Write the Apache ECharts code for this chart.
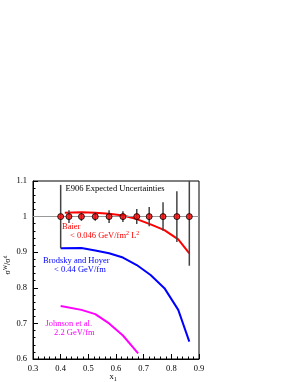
<!DOCTYPE html>
<html><head><meta charset="utf-8">
<script src="https://cdn.jsdelivr.net/npm/echarts@6/dist/echarts.min.js"></script>
<style>html,body{margin:0;padding:0;background:#fff}#c{width:295px;height:382px}</style>
</head><body><div id="c"></div>
<script>
// E906 expected uncertainties (points at ratio = 1)
const ptX = [0.40, 0.43, 0.475, 0.525, 0.575, 0.625, 0.675, 0.72, 0.77, 0.82, 0.865];
const ptY = [1, 1, 1, 1, 1, 1, 1, 1, 1, 1, 1];
const ptErr = [0.089, 0.018, 0.012, 0.012, 0.018, 0.015, 0.021, 0.027, 0.040, 0.071, 0.138];
// Baier
const baierX = [0.415, 0.475, 0.525, 0.575, 0.625, 0.675, 0.725, 0.775, 0.825, 0.865];
const baierY = [1.011, 1.012, 1.011, 1.008, 1.003, 0.993, 0.978, 0.962, 0.936, 0.897];
// Brodsky and Hoyer
const bhX = [0.40, 0.475, 0.525, 0.575, 0.625, 0.675, 0.725, 0.775, 0.825, 0.865];
const bhY = [0.911, 0.912, 0.905, 0.897, 0.885, 0.864, 0.836, 0.799, 0.738, 0.649];
// Johnson et al.
const jX = [0.40, 0.475, 0.525, 0.575, 0.625, 0.68];
const jY = [0.749, 0.738, 0.726, 0.700, 0.666, 0.616];
const xTicks = [0.3, 0.4, 0.5, 0.6, 0.7, 0.8, 0.9];
const yTicks = [0.6, 0.7, 0.8, 0.9, 1, 1.1];

const FONT = '"Liberation Serif", "DejaVu Serif", serif';
const zip = (a, b) => a.map((v, i) => [v, b[i]]);
const chart = echarts.init(document.getElementById('c'), null, {renderer: 'canvas'});
const axisCommon = {
  type: 'value',
  axisLine: {show: true, lineStyle: {color: '#000', width: 1}},
  axisTick: {show: true, inside: true, length: 5, lineStyle: {color: '#000'}},
  minorTick: {show: true, splitNumber: 5, length: 2.5, lineStyle: {color: '#000'}},
  splitLine: {show: false},
  axisLabel: {color: '#000', fontFamily: FONT, fontSize: 8.5}
};
chart.setOption({
  animation: false,
  grid: {left: 33, right: 96, top: 181, bottom: 23, show: true, borderColor: '#000', borderWidth: 1, backgroundColor: 'transparent'},
  xAxis: Object.assign({}, axisCommon, {
    min: xTicks[0], max: xTicks[xTicks.length - 1], interval: 0.1,
    axisLabel: Object.assign({}, axisCommon.axisLabel, {margin: 5, formatter: v => String(Math.round(v * 10) / 10)})
  }),
  yAxis: Object.assign({}, axisCommon, {
    min: yTicks[0], max: yTicks[yTicks.length - 1], interval: 0.1,
    axisLabel: Object.assign({}, axisCommon.axisLabel, {margin: 6, formatter: v => String(Math.round(v * 10) / 10)})
  }),
  series: [
    {
      type: 'line', data: zip(baierX, baierY), showSymbol: false, symbol: 'none',
      lineStyle: {color: '#ff0000', width: 2}, z: 3,
      markLine: {silent: true, symbol: 'none', label: {show: false},
        lineStyle: {color: '#999', width: 1, type: 'solid'}, data: [{yAxis: 1}]}
    },
    {type: 'line', data: zip(bhX, bhY), showSymbol: false, symbol: 'none', lineStyle: {color: '#0000ff', width: 2}, z: 3},
    {type: 'line', data: zip(jX, jY), showSymbol: false, symbol: 'none', lineStyle: {color: '#ff00ff', width: 2}, z: 3},
    {
      type: 'custom', clip: true, z: 4,
      data: ptX.map((x, i) => [x, ptY[i] - ptErr[i], ptY[i] + ptErr[i]]),
      renderItem: (params, api) => {
        const lo = api.coord([api.value(0), api.value(1)]);
        const hi = api.coord([api.value(0), api.value(2)]);
        return {type: 'line', shape: {x1: lo[0], y1: lo[1], x2: hi[0], y2: hi[1]},
          style: {stroke: '#444', lineWidth: 1.5}};
      }
    },
    {
      type: 'scatter', data: zip(ptX, ptY), symbol: 'circle', symbolSize: 6, z: 5,
      itemStyle: {color: '#ff0000', borderColor: '#000', borderWidth: 1}
    }
  ],
  graphic: [
    {type: 'text', x: 115, y: 189, style: {text: 'E906 Expected Uncertainties', font: '8.5px ' + FONT, fill: '#000', align: 'center', verticalAlign: 'middle'}},
    {type: 'text', x: 62, y: 227, style: {text: 'Baier', font: '8.5px ' + FONT, fill: '#ff0000', verticalAlign: 'middle'}},
    {type: 'text', x: 70, y: 236, style: {text: '< 0.046 GeV/fm{s|2} L{s|2}', font: '8.5px ' + FONT, fill: '#ff0000', verticalAlign: 'middle',
      rich: {s: {fontSize: 6, fontFamily: FONT, fill: '#ff0000', verticalAlign: 'top', padding: [0, 0, 5, 0]}}}},
    {type: 'text', x: 43, y: 261, style: {text: 'Brodsky and Hoyer', font: '8.5px ' + FONT, fill: '#0000ff', verticalAlign: 'middle'}},
    {type: 'text', x: 54, y: 270, style: {text: '< 0.44 GeV/fm', font: '8.5px ' + FONT, fill: '#0000ff', verticalAlign: 'middle'}},
    {type: 'text', x: 45.5, y: 324, style: {text: 'Johnson et al.', font: '8.5px ' + FONT, fill: '#ff00ff', verticalAlign: 'middle'}},
    {type: 'text', x: 54, y: 333, style: {text: '2.2 GeV/fm', font: '8.5px ' + FONT, fill: '#ff00ff', verticalAlign: 'middle'}},
    {type: 'text', x: 113, y: 377, style: {text: 'x{s|1}', font: '8.5px ' + FONT, fill: '#000', align: 'center', verticalAlign: 'middle',
      rich: {s: {fontSize: 6, fontFamily: FONT, padding: [5, 0, 0, 0]}}}},
    {type: 'text', x: 8, y: 265, rotation: Math.PI / 2, style: {text: 'σ{s|W}/σ{s|d}', font: '8px ' + FONT, fill: '#000', align: 'center', verticalAlign: 'middle',
      rich: {s: {fontSize: 5.5, fontFamily: FONT, padding: [0, 0, 5, 0]}}}}
  ]
});
</script></body></html>
